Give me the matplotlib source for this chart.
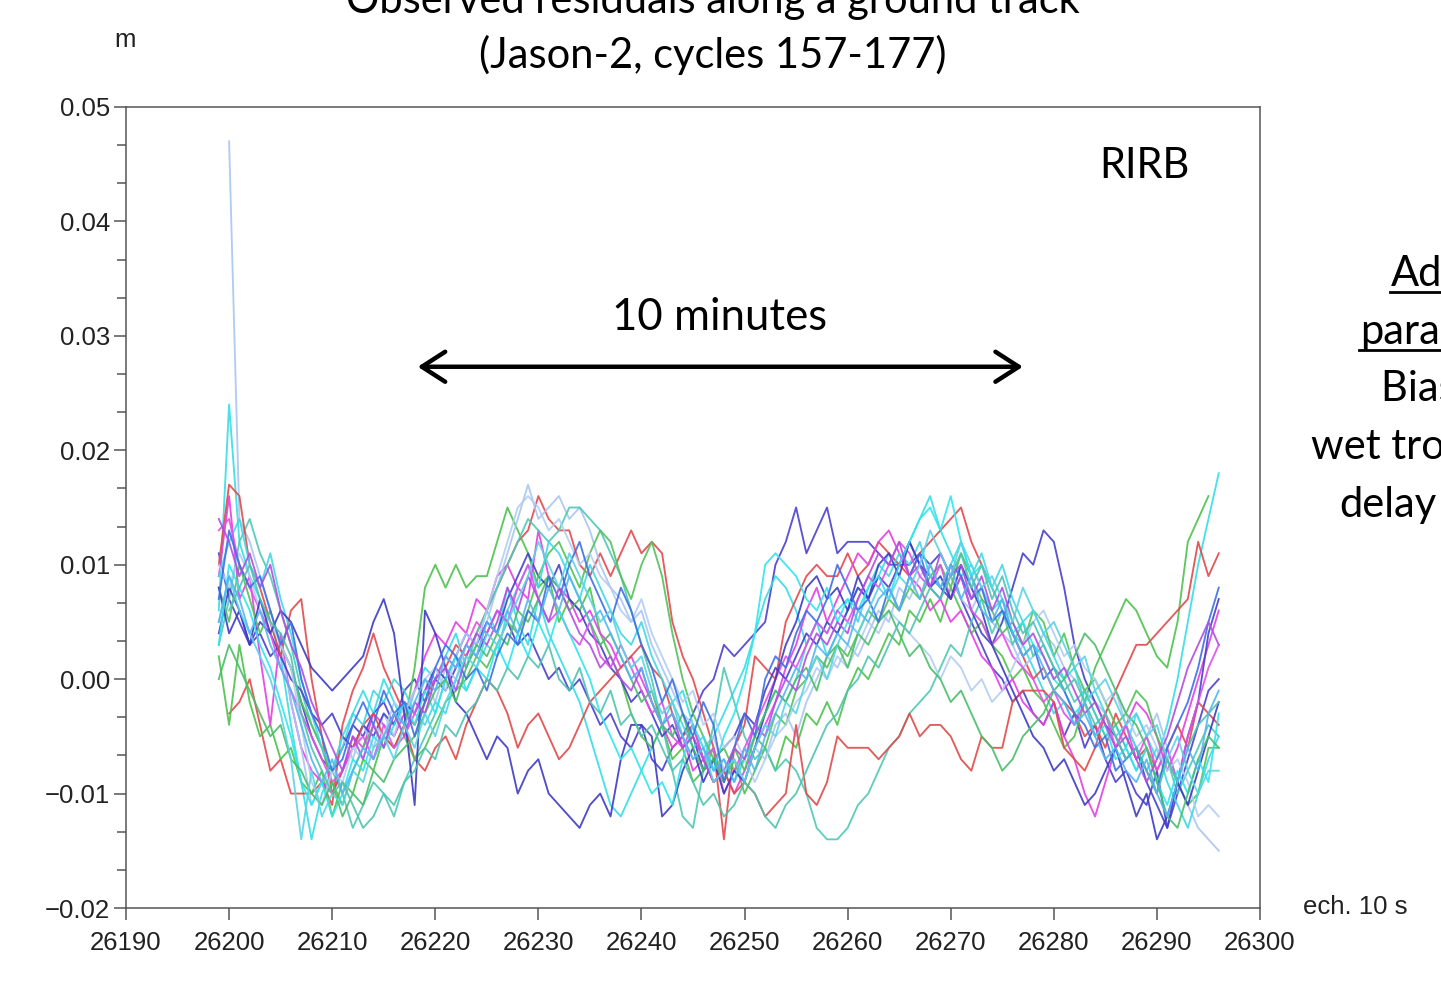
import numpy as np
import matplotlib.pyplot as plt
from matplotlib.lines import Line2D
from matplotlib.ticker import MultipleLocator, FuncFormatter

# residuals in mm, one value per 10 s sample starting at 26199 (None = no data)
x_start = 26199

c157 = [11, 7, 5, 3, 4, 2, 3, 1, -2, -5,
        -7, -8, -6, -4, -5, -3, -2, -4, -1, 0,
        -2, 0, -1, 1, 3, 2, 4, 6, 5, 3,
        4, 2, 0, 1, -1, 0, -2, -4, -3, -5,
        -6, -4, -7, -8, -6, -5, -3, -1, 0, 3,
        2, 3, 4, 5, 10, 12, 15, 11, 13, 15,
        11, 12, 12, 12, 11, 10, 10, 10, 11, 10,
        11, 9, 7, 5, 3, 1, 0, -2, -1, -3,
        -4, -2, -5, -3, -6, -4, -7, -9, -8, -10,
        -11, -8, -13, -10, -7, -4, -1, 0]
c158 = [6, 24, 12, 9, 7, 5, 2, -4, -9, -14,
        -10, -8, -6, -3, -1, -3, 0, -2, -4, -1,
        1, 0, 2, 4, 1, 3, 6, 4, 8, 5,
        3, 7, 4, 2, 0, -2, -5, -8, -11, -12,
        -10, -8, -6, -4, -2, -1, -4, -7, -5, -3,
        -1, 1, 4, 7, 9, 8, 6, 3, 5, 2,
        4, 6, 8, 7, 9, 11, 10, 12, 14, 16,
        13, 11, 9, 10, 8, 6, 7, 4, 3, 1,
        -1, -3, -2, -4, -1, -3, -5, -4, -6, -3,
        -5, -7, -4, 0, 5, 10, 14, 18]
c159 = [None, -3, -2, 0, -4, -8, -7, -10, -10, -10,
        -9, -11, -4, -1, 1, 4, 1, -1, -3, -4,
        -2, 0, 1, 3, 2, 4, 6, 8, 10, 12,
        13, 16, 14, 13, 13, 10, 9, 11, 9, 11,
        13, 11, 12, 11, 5, 2, 0, -3, -6, -14,
        -6, -4, 2, 1, 0, 5, 7, 9, 10, 9,
        9, 11, 9, 10, 12, 11, 10, 9, 11, 12,
        13, 14, 15, 12, 10, 8, 6, 4, 2, 0,
        1, -1, -2, -3, -5, -4, -6, -3, -5, -7,
        -6, -8, -6, -4, -6, -2, -3, -4]
c160 = [2, -4, 3, -2, -5, -4, -7, -6, -9, -10,
        -8, -12, -9, -10, -7, -8, -5, -6, -4, 1,
        8, 10, 8, 10, 8, 9, 9, 12, 15, 13,
        11, 8, 9, 5, 7, 6, 8, 4, 2, 0,
        -3, -5, -6, -4, -7, -6, -9, -8, -6, -9,
        -7, -10, -8, -6, -8, -5, -6, -3, -4, -2,
        -4, -1, 1, 0, 2, 4, 3, 6, 5, 7,
        5, 8, 6, 4, 5, 3, 2, 0, 1, -1,
        -2, -4, -6, -5, -2, 1, 3, 5, 7, 6,
        4, 2, 1, 5, 12, 14, 16, None]
c161 = [9, 16, 7, 9, 2, -4, 4, -2, -6, -8,
        -9, -10, -8, -5, -6, -3, -4, -5, -3, -1,
        2, 4, 3, 5, 4, 7, 6, 9, 10, 8,
        7, 13, 9, 8, 7, 5, 6, 4, 3, 1,
        2, 0, -2, -4, -6, -5, -8, -7, -9, -8,
        -10, -8, -6, -4, -2, 1, 3, 6, 8, 5,
        7, 9, 11, 10, 12, 13, 11, 9, 8, 6,
        7, 5, 6, 4, 2, 1, -1, 0, -2, -3,
        -4, -2, -5, -7, -10, -12, -9, -6, -4, -2,
        -3, -5, -8, -6, -3, 0, 3, 6]
c162 = [None, 47, 14, 12, 9, 6, 3, -2, -6, -11,
        -9, -8, -5, -7, -4, -6, -3, -5, -2, -3,
        0, -2, 1, 0, 3, 2, 5, 8, 11, 14,
        17, 14, 15, 16, 14, 15, 13, 10, 8, 7,
        5, 6, 3, 1, -1, -3, -4, -6, -5, -8,
        -7, -9, -6, -7, -4, -3, -5, -2, 0, 2,
        1, 3, 2, 4, 6, 5, 8, 7, 9, 10,
        8, 9, 7, 6, 8, 5, 4, 3, 1, 2,
        4, 3, 1, 0, -1, -2, -3, -1, -4, -6,
        -5, -3, -6, -9, -11, -13, -14, -15]
c163 = [3, 7, 12, 14, 11, 9, 6, 3, -1, -4,
        -6, -8, -10, -13, -11, -9, -10, -12, -9, -7,
        -5, -3, 0, 2, 1, 4, 6, 8, 10, 12,
        14, 13, 12, 13, 15, 15, 14, 13, 11, 9,
        6, 3, 0, -4, -8, -12, -13, -8, -4, 1,
        -2, -5, -7, -6, -8, -7, -8, -10, -13, -14,
        -14, -13, -11, -10, -8, -6, -5, -3, -2, -1,
        1, 3, 2, 5, 7, 4, 6, 3, 5, 2,
        3, 1, 0, -2, -1, -3, -5, -4, -6, -8,
        -6, -9, -7, -10, -8, -6, -4, -5]
c164 = [4, 8, 6, 3, 5, 4, 2, 0, -1, -3,
        -4, -3, -5, -6, -4, -5, -3, -4, -2, -3,
        -1, 1, 0, 2, 4, 3, 5, 4, 7, 9,
        11, 9, 8, 10, 7, 6, 4, 3, 1, 0,
        -2, -1, -3, -5, -4, -6, -5, -8, -7, -6,
        -5, -3, -4, -1, 1, 0, 2, 4, 3, 5,
        4, 6, 8, 7, 9, 8, 10, 12, 10, 9,
        8, 7, 9, 6, 4, 3, 5, 8, 11, 10,
        13, 12, 8, 3, 0, -2, -4, -5, -7, -6,
        -9, -11, -13, -9, -5, -2, 4, 7]
c165 = [10, 17, 16, 10, 8, 5, 2, 6, 7, 0,
        -5, -10, -8, -6, -4, -3, -5, -6, -4, -7,
        -8, -6, -5, -7, -4, -2, 0, -1, -3, -6,
        -4, -3, -5, -7, -6, -4, -2, -1, 0, 1,
        2, 3, 1, 0, -3, -5, -4, -7, -9, -8,
        -10, -9, -10, -12, -11, -10, -4, -10, -11, -9,
        -5, -6, -6, -6, -7, -6, -5, -3, -5, -4,
        -4, -5, -7, -8, -5, -6, -6, -2, -1, -1,
        -1, -2, -6, -7, -8, -6, -3, -1, 1, 3,
        3, 4, 5, 6, 7, 12, 9, 11]
c166 = [8, 5, 10, 7, 4, 6, 3, 1, -2, -4,
        -6, -9, -11, -8, -6, -4, -6, -3, -5, -7,
        -6, -4, -2, -1, 0, 2, 1, 3, 5, 4,
        6, 9, 11, 12, 10, 8, 11, 13, 12, 9,
        7, 10, 12, 9, 4, 0, -3, -5, -7, -6,
        -8, -7, -5, -6, -3, -4, -1, 0, 2, 1,
        3, 2, 4, 6, 5, 7, 6, 8, 7, 9,
        10, 8, 11, 9, 7, 6, 4, 5, 3, 6,
        5, 2, 4, 1, -1, 0, -2, -4, -3, -1,
        -2, -5, -7, -9, -11, -10, -6, -6]
c167 = [9, 12, 14, 10, 8, 11, 7, 4, 0, -3,
        -6, -8, -5, -3, -4, -1, -2, 0, -1, -3,
        -4, -2, -3, 0, -1, 1, 3, 2, 6, 8,
        10, 8, 12, 11, 9, 7, 10, 8, 6, 4,
        3, 5, 2, 0, -2, -4, -6, -5, -8, -7,
        -9, -7, -5, -3, -1, -2, 0, 3, 5, 4,
        6, 7, 5, 8, 10, 9, 11, 10, 12, 9,
        8, 10, 12, 9, 11, 8, 10, 7, 5, 6,
        4, 2, 0, 1, -2, -1, -3, -5, -4, -6,
        -8, -6, -9, -11, -13, -10, -7, -5]
c168 = [13, 14, 10, 8, 6, 4, 1, -1, -3, -5,
        -7, -9, -8, -6, -5, -7, -4, -6, -5, -3,
        -1, 0, 2, 1, 3, 5, 4, 6, 5, 8,
        10, 7, 5, 6, 4, 3, 5, 2, 1, 3,
        1, -1, -3, -2, -5, -6, -4, -7, -6, -10,
        -8, -6, -4, -2, 0, 2, 1, 3, 5, 4,
        6, 5, 7, 9, 8, 10, 12, 11, 9, 8,
        10, 7, 9, 6, 5, 3, 4, 2, 1, 0,
        -2, -1, -3, -4, -2, -5, -3, -6, -4, -7,
        -5, -8, -6, -9, -5, -2, 1, 3]
c169 = [10, 8, 11, 9, 6, 5, 3, 1, -4, -9,
        -11, -8, -9, -6, -7, -4, -5, -2, -3, -1,
        0, 1, -1, 2, 4, 3, 6, 9, 12, 15,
        16, 15, 13, 14, 12, 10, 11, 9, 8, 6,
        5, 7, 4, 2, 0, -2, -1, -4, -3, -6,
        -5, -7, -9, -7, -5, -4, -2, -1, 1, 0,
        2, 1, 3, 5, 4, 6, 5, 4, 3, 2,
        0, 2, 1, -1, 0, -2, -1, 1, 3, 5,
        6, 4, 2, 3, 1, 0, -2, -1, -3, -5,
        -4, -6, -8, -7, -9, -12, -11, -12]
c170 = [8, 4, 6, 3, 7, 4, 6, 5, 3, 1,
        0, -1, 0, 1, 2, 5, 7, 4, -3, -11,
        6, 4, 1, -2, -3, -5, -7, -5, -6, -10,
        -8, -7, -10, -11, -12, -13, -11, -10, -12, -7,
        -4, -4, -5, -12, -11, -8, -6, -9, -7, -10,
        -8, -9, -6, -3, 0, 3, 5, 8, 9, 7,
        8, 6, 9, 7, 10, 11, 9, 12, 10, 8,
        9, 7, 10, 8, 6, 3, 1, -1, -3, -5,
        -6, -8, -7, -9, -11, -10, -8, -6, -9, -12,
        -10, -14, -12, -9, -11, -8, -5, -2]
c171 = [3, 10, 8, 6, 3, 1, -2, -5, -9, -11,
        -9, -12, -10, -7, -8, -5, -6, -4, -2, -4,
        -1, -3, 0, 2, -1, 1, 0, 3, 1, 4,
        2, 5, 3, 6, 4, 2, 0, -3, -5, -7,
        -6, -8, -10, -9, -11, -7, -4, -6, -8, -5,
        -3, 0, 4, 10, 11, 10, 9, 7, 6, 8,
        5, 7, 6, 8, 9, 7, 10, 12, 14, 15,
        13, 16, 12, 9, 10, 8, 6, 4, 5, 3,
        2, 0, -1, -3, -2, -5, -4, -7, -6, -8,
        -6, -9, -11, -8, -10, -7, -9, -3]
c172 = [0, 3, 1, -1, -3, -5, -4, -7, -8, -10,
        -11, -9, -12, -10, -11, -8, -9, -7, -6, -5,
        -3, -1, 0, -2, 1, 3, 2, 4, 3, 6,
        5, 7, 9, 8, 6, 7, 5, 3, 4, 2,
        0, -2, -1, -4, -5, -3, -6, -8, -7, -9,
        -6, -8, -5, -3, -1, -2, 0, 1, -1, 2,
        3, 1, 4, 3, 5, 6, 4, 2, 3, 1,
        0, -2, -1, -3, -5, -6, -8, -7, -5, -4,
        -3, -1, 0, 2, 4, 3, 1, -1, -3, -4,
        -6, -9, -12, -13, -10, -7, -5, -6]
c173 = [7, 13, 10, 8, 9, 6, 3, 5, 0, -3,
        -5, -8, -7, -4, -2, -4, -1, -3, -2, -5,
        -2, 1, 3, 2, 0, 1, -1, 2, 4, 3,
        6, 5, 9, 7, 10, 12, 9, 7, 5, 8,
        6, 3, 1, -2, 0, -3, -5, -2, -4, -9,
        -6, -3, -5, 0, 2, 1, 4, 6, 5, 7,
        10, 8, 6, 7, 5, 8, 6, 9, 11, 8,
        7, 10, 9, 7, 8, 5, 6, 4, 2, 3,
        0, 1, -1, -3, -4, -6, -5, -8, -7, -6,
        -8, -10, -6, -4, -2, 1, 5, 8]
c174 = [14, 12, 9, 11, 8, 10, 6, 3, 1, -2,
        -4, -6, -8, -5, -7, -4, -6, -3, -5, -2,
        -3, 0, 1, -1, 2, 4, 3, 5, 8, 6,
        9, 7, 5, 8, 6, 4, 3, 1, 2, 0,
        -1, 1, -2, -4, -3, -6, -5, -7, -9, -8,
        -6, -7, -4, -5, -2, 0, -1, 2, 4, 3,
        5, 4, 7, 9, 11, 10, 12, 9, 10, 8,
        11, 9, 10, 7, 9, 6, 8, 5, 3, 4,
        2, 0, 1, -1, -3, -2, -4, -6, -5, -7,
        -9, -7, -5, -2, 1, 3, 5, 3]
c175 = [5, 9, 6, 4, 2, 0, -3, -7, -14, -8,
        -12, -10, -11, -8, -9, -6, -5, -7, -4, -6,
        -3, -5, -2, 0, 2, 1, 4, 3, 5, 7,
        9, 12, 10, 8, 11, 9, 7, 5, 6, 3,
        1, 2, -1, -3, -2, -5, -7, -6, -9, -8,
        -7, -9, -6, -4, -5, -2, -3, 0, 2, 0,
        3, 5, 4, 6, 8, 7, 9, 8, 10, 13,
        11, 9, 12, 10, 8, 9, 7, 5, 8, 6,
        4, 5, 3, 1, 2, -1, 0, -2, -4, -3,
        -5, -4, -7, -5, -8, -10, -8, -8]
c176 = [None, 6, 8, 10, 7, 5, 4, 2, -3, -6,
        -8, -10, -9, -11, -13, -12, -10, -11, -9, -8,
        -6, -7, -4, -5, -3, -2, 0, -1, 1, 0,
        2, 1, 3, 0, -1, 1, -2, -3, -1, -4,
        -3, -5, -4, -6, -8, -7, -9, -11, -10, -12,
        -11, -9, -10, -12, -13, -11, -10, -8, -6, -4,
        -3, -1, 0, 2, 1, 3, 5, 4, 6, 8,
        7, 9, 11, 8, 10, 7, 9, 6, 4, 5,
        3, 1, -1, 0, -2, -4, -3, -5, -7, -6,
        -8, -10, -7, -9, -6, -4, -3, -2]
c177 = [5, 9, 7, 4, 6, 3, 1, -1, -4, -7,
        -9, -7, -10, -8, -6, -7, -5, -3, -4, -2,
        0, -1, 2, 1, 3, 2, 5, 4, 6, 4,
        7, 5, 8, 6, 9, 7, 5, 6, 4, 2,
        0, 1, -2, -4, -3, -5, -7, -6, -8, -7,
        -9, -6, -8, -5, -3, -1, 1, 0, 3, 2,
        4, 3, 6, 5, 7, 8, 6, 9, 7, 10,
        8, 10, 7, 9, 6, 5, 7, 4, 2, 3,
        1, -1, -2, -4, -3, -5, -7, -6, -8, -9,
        -7, -10, -12, -9, -6, -8, -3, -1]

series = [c157, c158, c159, c160, c161, c162, c163, c164, c165, c166, c167,
          c168, c169, c170, c171, c172, c173, c174, c175, c176, c177]
colors = ['#4b3fd0', '#35dde6', '#e5484d', '#4cc24c', '#e43fe4', '#a9c6f0',
          '#4ec9b5', '#4540cc', '#e04a4a', '#52c25a', '#40d8e4', '#e050e8',
          '#b3cdf2', '#3d3bc4', '#2fe6ee', '#49be6a', '#3f6fe6', '#b04fe0',
          '#5ad4e4', '#4fc3b0', '#55b6ee']

tick_font = 'Liberation Sans'
txt_font = 'Lato'

fig = plt.figure(figsize=(14.41, 9.83), dpi=100)
ax = fig.add_axes([126 / 1441, 1 - 908 / 983, (1260 - 126) / 1441, (908 - 107) / 983])

for vals, col in zip(series, colors):
    y = np.array([np.nan if v is None else v for v in vals], dtype=float) / 1000.0
    x = x_start + np.arange(len(y))
    ax.plot(x, y, color=col, lw=1.35, alpha=0.9)

ax.set_xlim(26190, 26300)
ax.set_ylim(-0.02, 0.05)
ax.set_xticks(np.arange(26190, 26301, 10))
ax.set_yticks(np.arange(-0.02, 0.0501, 0.01))
ax.yaxis.set_minor_locator(MultipleLocator(0.01 / 3))
ax.yaxis.set_major_formatter(FuncFormatter(
    lambda v, p: ('%.2f' % (0.0 if abs(v) < 1e-9 else v)).replace('-', '\u2212')))

for s in ax.spines.values():
    s.set_color('#555555')
    s.set_linewidth(1.1)
ax.tick_params(axis='both', which='major', direction='out', length=8.5, width=1.1,
               color='#555555', labelsize=18.5, labelcolor='#222222')
ax.tick_params(axis='x', pad=8)
ax.tick_params(axis='y', pad=3)
ax.tick_params(axis='y', which='minor', direction='out', length=6.5, width=1.1, color='#555555')
for lab in ax.get_xticklabels() + ax.get_yticklabels():
    lab.set_family(tick_font)

# axis unit labels
fig.text(125 / 1441, 1 - 40 / 983, 'm', ha='center', va='center', fontsize=18.5,
         family=tick_font, color='#222222')
fig.text(1355 / 1441, 1 - 907 / 983, 'ech. 10 s', ha='center', va='center', fontsize=18.5,
         family=tick_font, color='#222222')

# title (first line runs off the top)
fig.text(713 / 1441, 1 - 13 / 983, 'Observed residuals along a ground track', ha='center',
         va='baseline', fontsize=30, family=txt_font)
fig.text(713 / 1441, 1 - 68 / 983, '(Jason-2, cycles 157-177)', ha='center',
         va='baseline', fontsize=30, family=txt_font)

ax.text(1144 / 1441, 1 - 166 / 983, 'RIRB', transform=fig.transFigure, ha='center',
        va='center', fontsize=30, family=txt_font)
ax.text(720 / 1441, 1 - 318 / 983, '10 minutes', transform=fig.transFigure, ha='center',
        va='center', fontsize=31.5, family=txt_font)
ax.annotate('', xy=(26218.3, 0.0273), xytext=(26277.0, 0.0273),
            arrowprops=dict(arrowstyle='<->,head_length=0.7,head_width=0.45', lw=3.2,
                            color='black', mutation_scale=24, shrinkA=0, shrinkB=0))

# side note, cut by the right edge
side = [('Additional', 1391, 286, True), ('parameters:', 1360, 344, True),
        ('Bias +', 1381, 401, False), ('wet tropo', 1311, 459, False),
        ('delay', 1339, 517, False)]
for txt, px, py, ul in side:
    fig.text(px / 1441, 1 - py / 983, txt, ha='left', va='baseline', fontsize=30,
             family=txt_font)
    if ul:
        fig.add_artist(Line2D([(px - 1) / 1441, 1.0], [1 - (py + 6) / 983] * 2,
                              color='black', lw=2))

fig.savefig('out.png', dpi=100)
